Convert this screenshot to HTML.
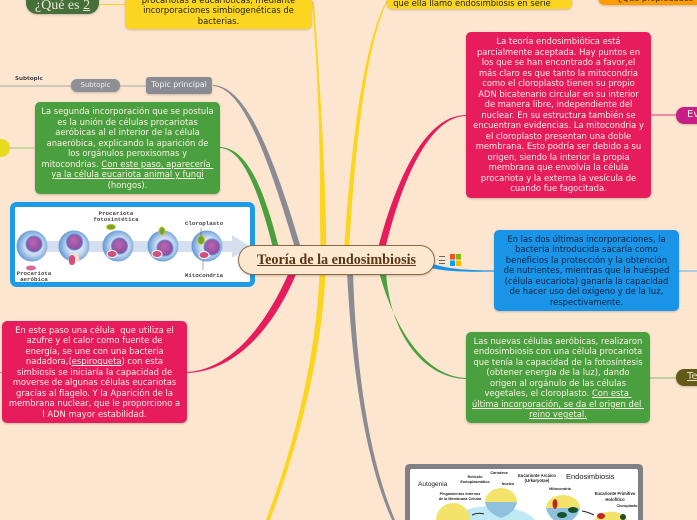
<!DOCTYPE html>
<html lang="es"><head><meta charset="utf-8"><title>Teoría de la endosimbiosis</title>
<style>
html,body{margin:0;padding:0;background:#fde6d0;width:697px;height:520px;overflow:hidden}
#p{position:relative;width:697px;height:520px;overflow:hidden;background:#fde6d0;font-family:"DejaVu Sans",sans-serif}
svg.l{position:absolute;left:0;top:0}
.b{position:absolute;box-sizing:border-box;border-radius:5px;display:flex;align-items:center;justify-content:center;text-align:center;white-space:nowrap;font-size:8.4px;line-height:10.5px;color:#fdf0e6;box-shadow:0 1px 2px rgba(0,0,0,.2)}
.g{background:#4aa03f}.r{background:#e71c5c}
u{text-underline-offset:1px}
</style></head><body><div id="p">
<svg class="l" width="697" height="520" viewBox="0 0 697 520">
<g fill="none" stroke-linecap="butt">
<path d="M0 86H71M120 86H146" stroke="#c2bdb5" stroke-width="1.5"/>
<path d="M10 148H35" stroke="#93c47d" stroke-width="1"/>
<path d="M99 4.500H125" stroke="#fbd51f" stroke-width="1"/>
<path d="M651 115H676" stroke="#ec6c92" stroke-width="1.500"/>
<path d="M679 271H697" stroke="#59b0ec" stroke-width="1"/>
<path d="M650 378H676" stroke="#a5c98c" stroke-width="1.500"/>
</g>
<!-- tapered branches -->
<path d="M312 2C317 60 320 130 320 200C320 240 321 250 320 262C318 340 300 430 266 520L270 520C304 430 324 340 326 262C327 235 325 150 314 2Z" fill="#fbd51f"/>
<path d="M387 0C365 40 352 130 344 250L349 250C356 130 368 40 388 0Z" fill="#fbd51f"/>
<path d="M213 86C240 88 263 140 295 248L301 248C269 140 243 86 213 85Z" fill="#8b8c93"/>
<path d="M220 148C240 149 256 180 273 248L279 248C261 176 243 148 220 147Z" fill="#4aa03f"/>
<path d="M187 372C225 370 262 335 290 270L297 272C269 339 228 372 187 373Z" fill="#e71c5c"/>
<path d="M466 115C430 115 400 165 378 248L385 250C404 170 433 116 466 116Z" fill="#e71c5c"/>
<path d="M430 263C450 270 470 270 494 270.500V271.500C470 272 450 272 430 268Z" fill="#1a94e6"/>
<path d="M379 272C395 330 425 376 466 378V379C424 378 390 335 386 272Z" fill="#4aa03f"/>
<path d="M347 272C352 370 365 460 392 520H395C369 460 356 370 353 272Z" fill="#8b8c93"/>
</svg>

<div class="b" style="left:26px;top:-18px;width:73px;height:32px;border-radius:11px;background:#45703a;color:#e9e6d6;font:14px 'Liberation Serif',serif;align-items:flex-end;padding-bottom:1px;line-height:14px"><div>¿Qué es&nbsp;<u>2</u></div></div>
<div class="b" style="left:125px;top:-12px;width:187px;height:41px;background:#fbd51f;color:#222;align-items:flex-end;padding-bottom:3px"><div>procariotas a eucarióticas, mediante<br>incorporaciones simbiogenéticas de<br>bacterias.</div></div>

<div style="position:absolute;left:15px;top:75px;font-size:5.600px;line-height:8px;color:#444;font-weight:600">Subtopic</div>
<div class="b" style="left:71px;top:79px;width:49px;height:13px;border-radius:6px;background:#8f9096;font-size:6.800px;color:#eee"><div>Subtopic</div></div>
<div class="b" style="left:146px;top:77px;width:66px;height:17px;border-radius:3px;background:#8b8c93;font-size:7.800px;color:#f3f3f3"><div>Topic principal</div></div>

<div class="b g" style="left:35px;top:102px;width:185px;height:92px"><div>La segunda incorporación que se postula<br>es la unión de células procariotas<br>aeróbicas al el interior de la célula<br>anaeróbica, explicando la aparición de<br>los orgánulos peroxisomas y<br>mitocondrias. <u>Con este paso, aparecería&nbsp;</u><br><u>ya la célula eucariota animal y fungi</u><br>(hongos).</div></div>
<div style="position:absolute;left:-8px;top:139px;width:18px;height:18px;border-radius:50%;background:#e6dc1c"></div>

<!-- figure 1 -->
<svg class="l" style="left:10px;top:202px" width="245" height="90" viewBox="10 202 245 90">
<defs>
<radialGradient id="c" cx=".55" cy=".5" r=".55"><stop offset=".2" stop-color="#f0f0f8"/><stop offset=".55" stop-color="#c4d6ee"/><stop offset=".85" stop-color="#7fabdf"/><stop offset="1" stop-color="#5c97d6"/></radialGradient>
<radialGradient id="n" cx=".45" cy=".4" r=".6"><stop offset="0" stop-color="#b868b4"/><stop offset="1" stop-color="#8d4a9c"/></radialGradient>
</defs>
<rect x="12.500" y="204.500" width="240" height="80" rx="4" fill="#fff" stroke="#1e9be8" stroke-width="5"/>
<path d="M47 241H232V235L250 246.500L232 258V252H47Z" fill="#d6dfef"/>
<circle cx="32" cy="246" r="15.500" fill="url(#c)"/><circle cx="34" cy="244" r="8" fill="url(#n)" stroke="#5c97d6"/>
<circle cx="74" cy="246" r="15.500" fill="url(#c)"/><circle cx="74.500" cy="242" r="8" fill="url(#n)" stroke="#5c97d6"/>
<path d="M68 262L70 254H78L80 262Z" fill="#fde0d0"/><rect x="69" y="255" width="6" height="10" rx="3" fill="#d0507e"/>
<circle cx="118" cy="246" r="15.500" fill="url(#c)"/><circle cx="119.500" cy="246" r="8" fill="url(#n)" stroke="#5c97d6"/>
<ellipse cx="112" cy="254" rx="5" ry="3.500" fill="#d0507e" stroke="#fff"/>
<circle cx="163" cy="246" r="15.500" fill="url(#c)"/><circle cx="165" cy="248" r="8" fill="url(#n)" stroke="#5c97d6"/>
<ellipse cx="157" cy="254" rx="5" ry="3.500" fill="#d0507e" stroke="#fff"/>
<circle cx="207" cy="246" r="15.500" fill="url(#c)"/><circle cx="212" cy="247" r="8" fill="url(#n)" stroke="#5c97d6"/>
<ellipse cx="204" cy="255" rx="5" ry="3.500" fill="#d0507e" stroke="#fff"/>
<ellipse cx="201" cy="240" rx="3.500" ry="4.500" fill="#6aa83c" stroke="#e8c020"/>
<ellipse cx="111" cy="227" rx="4.500" ry="2.800" fill="#6aa83c" stroke="#e8c020"/>
<ellipse cx="162" cy="231" rx="3" ry="4" fill="#6aa83c" stroke="#e8c020"/>
<ellipse cx="31" cy="268" rx="5" ry="2.500" fill="#d86a9a"/>
<path d="M201 228V236M203 260V270" stroke="#555" stroke-width=".5"/>
<g font-family="'Liberation Mono',monospace" font-size="5.800" font-weight="700" fill="#444" text-anchor="middle">
<text x="116" y="215">Procariota</text><text x="116" y="221">fotosintética</text>
<text x="204" y="225">Cloroplasto</text><text x="204" y="277">Mitocondria</text>
<text x="34" y="275">Procariota</text><text x="34" y="281">aeróbica</text>
</g>
</svg>

<div class="b r" style="left:2px;top:321px;width:185px;height:102px"><div>En este paso una célula &nbsp;que utiliza el<br>azufre y el calor como fuente de<br>energía, se une con una bacteria<br>nadadora,(<u>espiroqueta</u>) con esta<br>simbiosis se iniciaría la capacidad de<br>moverse de algunas células eucariotas<br>gracias al flagelo. Y la Aparición de la<br>membrana nuclear, que le proporciono a<br>l ADN mayor estabilidad.</div></div>
<div style="position:absolute;left:0;top:372px;width:2px;height:1px;background:#ec6c92"></div>

<div class="b" style="left:238px;top:245px;width:197px;height:30px;border-radius:15px;background:#fde8d2;border:1.500px solid #8a6a45;color:#5a3714;font:bold 14.200px 'Liberation Serif',serif"><div><u>Teoría de la endosimbiosis</u></div></div>
<div style="position:absolute;left:439px;top:256px;width:6px;height:8px;border-top:1px solid #666;border-bottom:1px solid #666;box-sizing:border-box"><div style="height:1px;margin-top:2.500px;background:#666"></div></div>
<svg class="l" style="left:450px;top:254px" width="11" height="12"><rect width="5" height="5.500" fill="#f25022"/><rect x="6" width="5" height="5.500" fill="#7fba00"/><rect y="6.500" width="5" height="5.500" fill="#00a4ef"/><rect x="6" y="6.500" width="5" height="5.500" fill="#ffb900"/></svg>

<div class="b" style="left:387px;top:-12px;width:185px;height:21px;background:#fbd51f;color:#222;align-items:flex-end;padding:0 15px 1px 0"><div>que ella llamó endosimbiosis en serie</div></div>
<div class="b" style="left:598px;top:-12px;width:120px;height:17px;border-radius:7px;background:#ff9c00;color:#333;align-items:flex-end;justify-content:flex-start;padding:0 0 2px 20px;line-height:10px;font-size:8.300px"><div>¿Qué propiedades</div></div>

<div class="b r" style="left:466px;top:32px;width:185px;height:166px"><div>La teoría endosimbiótica está<br>parcialmente aceptada. Hay puntos en<br>los que se han encontrado a favor,el<br>más claro es que tanto la mitocondria<br>como el cloroplasto tienen su propio<br>ADN bicatenario circular en su interior<br>de manera libre, independiente del<br>nuclear. En su estructura también se<br>encuentran evidencias. La mitocondria y<br>el cloroplasto presentan una doble<br>membrana. Esto podría ser debido a su<br>origen, siendo la interior la propia<br>membrana que envolvía la célula<br>procariota y la externa la vesícula de<br>cuando fue fagocitada.</div></div>
<div class="b" style="left:676px;top:107px;width:60px;height:17px;border-radius:8px;background:#c91f85;font-size:10px;justify-content:flex-start;padding-left:11px"><div>Evidencias</div></div>

<div class="b" style="left:494px;top:230px;width:185px;height:81px;background:#1a94e6;color:#0d2340"><div>En las dos últimas incorporaciones, la<br>bacteria introducida sacaría como<br>beneficios la protección y la obtención<br>de nutrientes, mientras que la huésped<br>(célula eucariota) ganaría la capacidad<br>de hacer uso del oxígeno y de la luz,<br>respectivamente.</div></div>

<div class="b g" style="left:466px;top:332px;width:184px;height:91px"><div>Las nuevas células aeróbicas, realizaron<br>endosimbiosis con una célula procariota<br>que tenía la capacidad de la fotosíntesis<br>(obtener energía de la luz), dando<br>origen al orgánulo de las células<br>vegetales, el cloroplasto. <u>Con esta&nbsp;</u><br><u>última incorporación, se da el origen del&nbsp;</u><br><u>reino vegetal.</u></div></div>
<div class="b" style="left:676px;top:369px;width:60px;height:17px;border-radius:8px;background:#635a18;font-size:10px;justify-content:flex-start;padding-left:11px;color:#e8e4c8"><div><u>Teoría</u></div></div>

<!-- figure 2: every shape stops at the frame's bottom edge -->
<svg class="l" style="left:405px;top:464px" width="238" height="56" viewBox="405 464 238 56">
<path d="M405 520V469Q405 464 410 464H638Q643 464 643 469V520Z" fill="#7f7f85"/>
<path d="M410 520V471Q410 469 412 469H636Q638 469 638 471V520Z" fill="#fff"/>
<path d="M448.400 520A48 24 0 0 1 535.600 520Z" fill="#bfeaf5"/>
<path d="M485 502A16 14 0 0 1 517 502Z" fill="#f3e36a"/>
<path d="M485 502H517Q515 513 501 518Q487 513 485 502Z" fill="#8fc1dc"/>
<path d="M436 520A17 17 0 0 1 470 520Z" fill="#f3e36a"/>
<path d="M546 508A17 13 0 0 1 580 508Z" fill="#f3e36a"/>
<path d="M546 508H580Q578 516 572 520H554Q548 516 546 508Z" fill="#8fc1dc"/>
<path d="M594.800 520A17 12 0 0 1 627.200 520Z" fill="#f3e36a"/>
<ellipse cx="555" cy="504" rx="2.500" ry="5" fill="#c0261e"/><ellipse cx="573" cy="510" rx="5" ry="3" fill="#17502a"/><ellipse cx="562" cy="515" rx="5" ry="3" fill="#17502a"/>
<ellipse cx="601" cy="516" rx="4" ry="3" fill="#c0261e"/><ellipse cx="623" cy="517" rx="3" ry="3" fill="#17502a"/>
<path d="M472 515Q478 512 484 514M582 511Q588 512 594 515" stroke="#222" fill="none"/>
<g font-family="'Liberation Sans',sans-serif" fill="#222">
<text x="418" y="486" font-size="6.500">Autogenia</text>
<text x="566" y="479" font-size="7.500">Endosimbiosis</text>
<g font-size="3.800" font-weight="700" text-anchor="middle">
<text x="475" y="478">Retículo</text><text x="475" y="483">Endoplasmático</text>
<text x="499" y="474">Carioteca</text><text x="508" y="485">Núcleo</text>
<text x="537" y="477" font-size="4.200">Eucarionte Arcáico</text><text x="537" y="482" font-size="4.200">(Urkaryotae)</text>
<text x="460" y="495">Plegamientos Internos</text><text x="460" y="500">de la Membrana Celular</text>
<text x="560" y="490">Mitocondria</text>
<text x="615" y="495" font-size="4.200">Eucarionte Primitivo</text><text x="615" y="501" font-size="4.200">Holofítico</text>
<text x="627" y="507">Cloroplasto</text>
</g></g>
</svg>
</div></body></html>
